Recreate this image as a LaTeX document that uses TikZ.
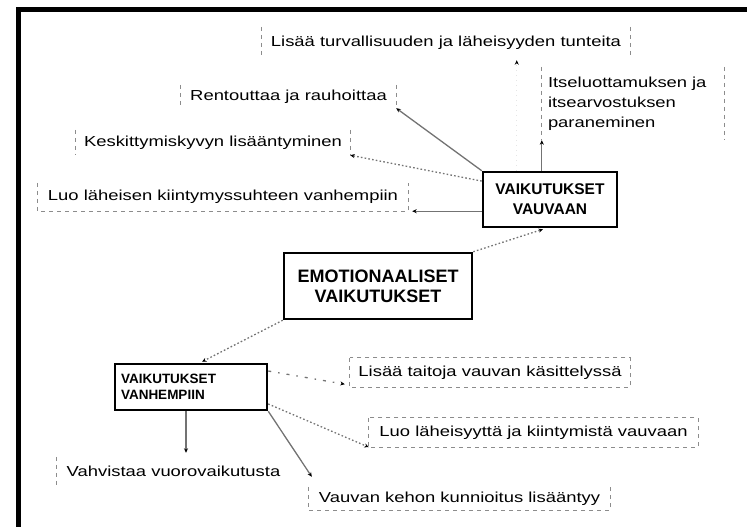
\documentclass[tikz,border=0pt]{standalone}
\usepackage{fontspec}
\setmainfont{Liberation Sans}[FakeStretch=1.27]
\newfontfamily\hdfont{Liberation Sans}
\usetikzlibrary{arrows.meta,calc}
\tikzset{
  mainbox/.style={draw=black, line width=2.5pt, fill=white, inner sep=0pt, align=center},
  tbox/.style={inner sep=0pt, font=\fontsize{14.5}{20}\selectfont},
  tside/.style={draw=black!45, line width=1.3pt, dash pattern=on 4pt off 4pt},
  conn/.style={draw=black!55, line width=1.3pt, -{Stealth[length=4.5pt,width=4pt,color=black]}},
  dotconn/.style={conn, dash pattern=on 1.6pt off 2.2pt},
  sparseconn/.style={conn, dash pattern=on 3pt off 7pt on 1.5pt off 7pt},
  ghostconn/.style={conn, draw=black!10, dash pattern=on 1pt off 4pt},
}
\begin{document}
\begin{tikzpicture}[x=1pt,y=-1pt]
\useasboundingbox (0,0) rectangle (747,527);
% frame
\draw[line width=5pt] (18.5,530) -- (18.5,9.5) -- (750,9.5);

% main boxes
\node[mainbox, minimum width=188pt, minimum height=66pt,
      font=\hdfont\bfseries\fontsize{18}{20}\selectfont] (EMOT) at (378,286) {EMOTIONAALISET\\VAIKUTUKSET};
\node[mainbox, minimum width=134pt, minimum height=55pt,
      font=\hdfont\bfseries\fontsize{15.5}{20}\selectfont] (VAUV) at (550,199.5) {VAIKUTUKSET\\VAUVAAN};
\node[mainbox, minimum width=152pt, minimum height=46pt, align=left, text width=140pt, inner xsep=6pt,
      font=\hdfont\bfseries\fontsize{13.5}{15.5}\selectfont] (VANH) at (191,387) {VAIKUTUKSET\\VANHEMPIIN};

% text boxes
\node[tbox, minimum width=368pt, minimum height=31pt] (T1) at (446,42.5) {Lisää turvallisuuden ja läheisyyden tunteita};
\node[tbox, minimum width=182pt, minimum height=73pt, text width=170pt, align=left] (T2) at (633,103.5) {Itseluottamuksen ja\\itsearvostuksen\\paraneminen};
\node[tbox, minimum width=215pt, minimum height=23pt] (T3) at (288.5,96.5) {Rentouttaa ja rauhoittaa};
\node[tbox, minimum width=274pt, minimum height=25pt] (T4) at (213,142.5) {Keskittymiskyvyn lisääntyminen};
\node[tbox, minimum width=370pt, minimum height=28pt] (T5) at (223,197) {Luo läheisen kiintymyssuhteen vanhempiin};
\node[tbox, minimum width=280pt, minimum height=29pt] (T6) at (490,372.5) {Lisää taitoja vauvan käsittelyssä};
\node[tbox, minimum width=329pt, minimum height=29pt] (T7) at (533.5,432.5) {Luo läheisyyttä ja kiintymistä vauvaan};
\node[tbox, minimum width=301pt, minimum height=23pt] (T8) at (459.5,498.5) {Vauvan kehon kunnioitus lisääntyy};
\node[tbox, minimum width=233pt, minimum height=28pt] (T9) at (173.5,471) {Vahvistaa vuorovaikutusta};

% visible dashed sides of the text boxes
\draw[tside] (T1.north west) -- (T1.south west) (T1.north east) -- (T1.south east);
\draw[tside] (T2.north west) -- (T2.south west) (T2.north east) -- (T2.south east);
\draw[tside] (T3.north west) -- (T3.south west) (T3.north east) -- (T3.south east);
\draw[tside] (T4.north west) -- (T4.south west) (T4.north east) -- (T4.south east);
\draw[tside] (T5.north west) -- (T5.south west) -- (T5.south east) -- (T5.north east);
\draw[tside] (T6.north west) rectangle (T6.south east);
\draw[tside] (T7.north west) rectangle (T7.south east);
\draw[tside] (T8.north west) -- (T8.south west) -- (T8.south east) -- (T8.north east);
\draw[tside] (T9.north west) -- (T9.south west);

% connectors
\draw[dotconn] (EMOT.north east) -- ($(VAUV.south)+(-7,1)$);
\draw[dotconn] (EMOT.south west) -- ($(VANH.north)+(11,-1)$);

\coordinate (v1) at ($(VAUV.north west)+(35,0)$);
\draw[ghostconn] (v1) -- ($(v1 |- T1.south)+(0,2)$);
\draw[conn] (VAUV.north -| T2.south west) -- (T2.south west);
\draw[conn] (VAUV.north west) -- (T3.south east);
\draw[dotconn] ($(VAUV.north west)!0.18!(VAUV.south west)$) -- (T4.south east);
\draw[conn] (VAUV.west |- T5.south) -- ($(T5.south east)+(4,0)$);

\draw[sparseconn] ($(VANH.north east)!0.17!(VANH.south east)$) -- ($(T6.south west)+(-5,-3)$);
\draw[dotconn] ($(VANH.north east)!0.85!(VANH.south east)$) -- (T7.south west);
\draw[conn] (VANH.south east) -- ($(T8.north west)+(3,-10)$);
\coordinate (v2) at ($(VANH.south)+(-5,0)$);
\draw[conn] (v2) -- ($(v2 |- T9.north)+(0,-4)$);
\end{tikzpicture}
\end{document}
